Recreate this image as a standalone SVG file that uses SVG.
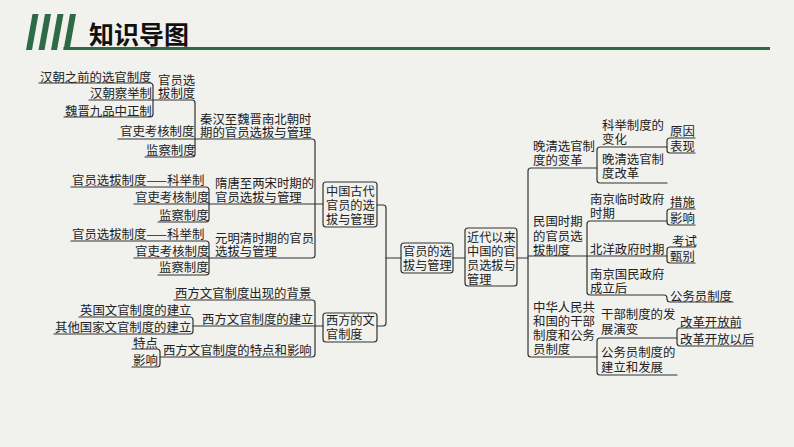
<svg xmlns="http://www.w3.org/2000/svg" width="794" height="447" viewBox="0 0 794 447">
<style>
text{font-family:"Noto Sans CJK SC","Noto Sans CJK TC",sans-serif;font-size:12.4px;fill:#222}
.t{font-size:25px;font-weight:bold;fill:#111}
.c{fill:none;stroke:#333;stroke-width:1.2;stroke-linecap:round;stroke-linejoin:round}
.b{fill:none;stroke:#333;stroke-width:1.2}
.bx{font-size:12.2px}
</style>
<rect width="794" height="447" fill="#f1f1ee"/>
<g id="header">
<polygon points="26,50 32,50 38.5,14 32.5,14" fill="#2f6a47"/>
<polygon points="38.5,50 44.5,50 51,14 45,14" fill="#2f6a47"/>
<polygon points="51,50 57,50 63.5,14 57.5,14" fill="#2f6a47"/>
<polygon points="63.5,50 69.5,50 76,14 70,14" fill="#2f6a47"/>
<rect x="63.5" y="47" width="706.5" height="3" fill="#2f6a47"/>
<text class="t" x="89" y="44">知识导图</text>
</g>
<g id="connectors">
<path class="c" d="M39 83 H150 Q153 83 153 86 V114 Q153 117 150 117 H64"/>
<path class="c" d="M89 100 H192 Q195 100 195 103 V154 Q195 157 192 157 H145"/>
<path class="c" d="M118 139 H312 Q315 139 315 142 V255 Q315 258 312 258 H134"/>
<path class="c" d="M71 187 H206 Q209 187 209 190 V219 Q209 222 206 222 H158"/>
<path class="c" d="M134 204 H323"/>
<path class="c" d="M71 241 H206 Q209 241 209 244 V272 Q209 275 206 275 H158"/>
<path class="c" d="M174 300 H312 Q315 300 315 303 V354 Q315 357 312 357 H160"/>
<path class="c" d="M79 317 H190 Q193 317 193 320 V331 Q193 334 190 334 H54"/>
<path class="c" d="M193 326 H323"/>
<path class="c" d="M132 349 H157 Q160 349 160 352 V364 Q160 367 157 367 H132"/>
<path class="c" d="M377 205 H383 Q386 205 386 208 V323 Q386 326 383 326 H377"/>
<path class="c" d="M386 258 H401"/>
<path class="c" d="M453 258 H465"/>
<path class="c" d="M517 258 H528"/>
<path class="c" d="M597 168 H531 Q528 168 528 171 V354 Q528 357 531 357 H597"/>
<path class="c" d="M667 147 H600 Q597 147 597 150 V180 Q597 183 600 183 H667"/>
<path class="c" d="M695 138 H670 Q667 138 667 141 V150 Q667 153 670 153 H695"/>
<path class="c" d="M528 256 H667"/>
<path class="c" d="M667 221 H590 Q587 221 587 224 V292 Q587 295 590 295 H664 Q667 295 667 298 V299 Q667 302 670 302 H733"/>
<path class="c" d="M695 209 H670 Q667 209 667 212 V222 Q667 225 670 225 H695"/>
<path class="c" d="M695 247 H670 Q667 247 667 250 V260 Q667 263 670 263 H695"/>
<path class="c" d="M677 338 H600 Q597 338 597 341 V372 Q597 375 600 375 H677"/>
<path class="c" d="M741 328 H680 Q677 328 677 331 V343 Q677 346 680 346 H753"/>
</g>
<g id="n-root">
<rect class="b" x="401" y="243" width="52" height="30" rx="3"/>
<text class="bx" x="403" y="255.5">官员的选</text>
<text class="bx" x="403" y="270">拔与管理</text>
</g>
<g id="n-ancient">
<rect class="b" x="323" y="182" width="54" height="45" rx="3"/>
<text class="bx" x="326" y="195.5">中国古代</text>
<text class="bx" x="326" y="209.5">官员的选</text>
<text class="bx" x="326" y="223.5">拔与管理</text>
</g>
<g id="n-west">
<rect class="b" x="323" y="313" width="54" height="29" rx="3"/>
<text class="bx" x="326" y="324.5">西方的文</text>
<text class="bx" x="326" y="339">官制度</text>
</g>
<g id="n-modern">
<rect class="b" x="465" y="228" width="52" height="58" rx="3"/>
<text class="bx" x="467" y="241.5">近代以来</text>
<text class="bx" x="467" y="255.5">中国的官</text>
<text class="bx" x="467" y="269.5">员选拔与</text>
<text class="bx" x="467" y="283.5">管理</text>
</g>
<g id="n-qinhan">
<text x="200" y="123.5">秦汉至魏晋南北朝时</text>
<text x="200" y="137">期的官员选拔与管理</text>
<text x="158" y="84.5">官员选</text>
<text x="158" y="98">拔制度</text>
<text x="40" y="81.5">汉朝之前的选官制度</text>
<text x="90" y="97.5">汉朝察举制</text>
<text x="65" y="115.5">魏晋九品中正制</text>
<text x="120" y="136">官吏考核制度</text>
<text x="146" y="154.5">监察制度</text>
</g>
<g id="n-suitang">
<text x="215" y="187.5">隋唐至两宋时期的</text>
<text x="215" y="201.5">官员选拔与管理</text>
<text x="72" y="184.5">官员选拔制度——科举制</text>
<text x="135" y="202">官吏考核制度</text>
<text x="159" y="219.5">监察制度</text>
</g>
<g id="n-yuanmingqing">
<text x="215" y="242.5">元明清时期的官员</text>
<text x="215" y="256">选拔与管理</text>
<text x="72" y="239">官员选拔制度——科举制</text>
<text x="135" y="255.5">官吏考核制度</text>
<text x="159" y="272">监察制度</text>
</g>
<g id="n-westsub">
<text x="175" y="297.5">西方文官制度出现的背景</text>
<text x="202" y="324">西方文官制度的建立</text>
<text x="163" y="355">西方文官制度的特点和影响</text>
<text x="80" y="315">英国文官制度的建立</text>
<text x="55" y="331.5">其他国家文官制度的建立</text>
<text x="133" y="347.5">特点</text>
<text x="133" y="365">影响</text>
</g>
<g id="n-lateqing">
<text x="533" y="150.5">晚清选官制</text>
<text x="533" y="165">度的变革</text>
<text x="602" y="129.5">科举制度的</text>
<text x="602" y="144">变化</text>
<text x="602" y="163.5">晚清选官制</text>
<text x="602" y="178">度改革</text>
<text x="670" y="135.5">原因</text>
<text x="670" y="151">表现</text>
</g>
<g id="n-minguo">
<text x="533" y="226">民国时期</text>
<text x="533" y="241">的官员选</text>
<text x="533" y="255">拔制度</text>
<text x="590" y="203.5">南京临时政府</text>
<text x="590" y="217.5">时期</text>
<text x="590" y="254">北洋政府时期</text>
<text x="590" y="279">南京国民政府</text>
<text x="590" y="293">成立后</text>
<text x="670" y="207">措施</text>
<text x="670" y="223">影响</text>
<text x="672" y="246">考试</text>
<text x="670" y="261">甄别</text>
<text x="670" y="300.5">公务员制度</text>
</g>
<g id="n-prc">
<text x="533" y="312">中华人民共</text>
<text x="533" y="326">和国的干部</text>
<text x="533" y="340">制度和公务</text>
<text x="533" y="354">员制度</text>
<text x="601" y="319">干部制度的发</text>
<text x="601" y="334">展演变</text>
<text x="601" y="357">公务员制度的</text>
<text x="601" y="372">建立和发展</text>
<text x="680" y="326.5">改革开放前</text>
<text x="680" y="344">改革开放以后</text>
</g>
</svg>
